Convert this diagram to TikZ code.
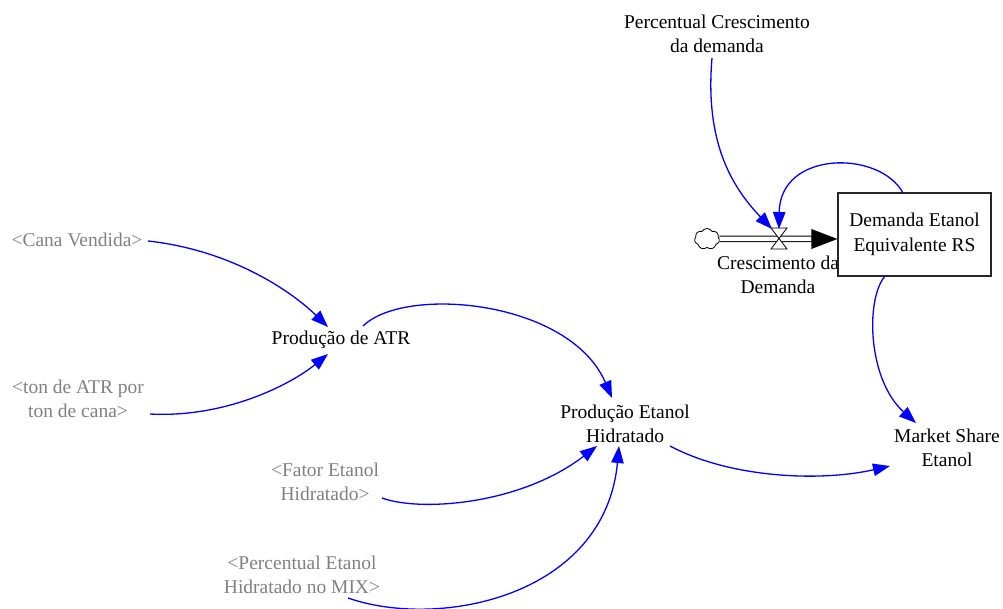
\documentclass[tikz,border=0pt]{standalone}
\usepackage{fontspec}
\setmainfont{Liberation Serif}
\usetikzlibrary{arrows.meta,calc,shapes.symbols}
\definecolor{linkblue}{RGB}{0,0,255}
\definecolor{shadowgray}{RGB}{128,128,128}
\tikzset{
  x=1pt, y=-1pt,
  var/.style={align=center, inner sep=0pt, font=\fontsize{19.5}{24.5}\selectfont},
  shadowvar/.style={var, text=shadowgray},
  stockbox/.style={draw=black!85, line width=1.2pt, fill=white, minimum width=153pt,
    minimum height=83pt, inner sep=0pt, align=center, font=\fontsize{19.5}{24.5}\selectfont},
  link/.style={draw=linkblue, line width=1.3pt, -{Triangle[length=17pt,width=12.5pt]}, fill=none},
  pipe/.style={draw=black, line width=1pt, double=white, double distance=4.5pt},
}
\begin{document}
\begin{tikzpicture}
\useasboundingbox (0,0) rectangle (1003,609);

% variables
\node[var] (pcd) at (717,34) {Percentual Crescimento\\da demanda};
\node[shadowvar] (cana) at (77,240) {<Cana Vendida>};
\node[var] (atr) at (341,340) {Produção de ATR};
\node[shadowvar] (ton) at (78,399) {<ton de ATR por\\ton de cana>};
\node[var] (pe) at (625,424) {Produção Etanol\\Hidratado};
\node[shadowvar] (fator) at (325,482) {<Fator Etanol\\Hidratado>};
\node[shadowvar] (mix) at (302,575) {<Percentual Etanol\\Hidratado no MIX>};
\node[var] (ms) at (947,448) {Market Share\\Etanol};
\node[var] (cres) at (778,275) {Crescimento da\\Demanda};

% stock, source cloud and flow pipe
\node[stockbox] (dem) at (914.5,234.5) {Demanda Etanol\\Equivalente RS};
\node[cloud, draw, cloud puffs=7, cloud puff arc=120, line width=0.8pt,
      minimum width=25pt, minimum height=21pt, inner sep=0pt] (src) at (707,239) {};
\coordinate (valve) at (779,239);
\coordinate (inlet) at ($(dem.west)+(0,4.5)$);
\draw[pipe] (src.east) -- ($(inlet)+(-26,0)$);
\fill[black] ($(inlet)+(-26,-10)$) -- (inlet) -- ($(inlet)+(-26,10)$) -- cycle;
\draw[fill=white, line width=0.8pt] ($(valve)+(-8,-11)$) -- ($(valve)+(8,-11)$)
  -- ($(valve)+(-8,10)$) -- ($(valve)+(8,10)$) -- cycle;

% causal links
\draw[link] ($(cana)+(71,1)$) .. controls +(82,9) and +(-38,-37) .. ($(atr)+(-13,-13)$);
\draw[link] ($(ton)+(72,15)$) .. controls +(75,4) and +(-38,31) .. ($(atr)+(-13,14)$);
\draw[link] ($(atr)+(22,-14)$) .. controls +(42,-41) and +(-42,-98) .. ($(pe)+(-13,-26)$);
\draw[link] ($(fator)+(57,16)$) .. controls +(38,14) and +(-77,59) .. ($(pe)+(-28,22)$);
\draw[link] ($(mix)+(46,23)$) .. controls +(92,32) and +(-14,150) .. ($(pe)+(-6,22)$);
\draw[link] ($(pe)+(45,22)$) .. controls +(60,32) and +(-70,16) .. ($(ms)+(-57,18)$);
\draw[link] ($(dem)+(-29.5,41.5)$) .. controls +(-20,24) and +(-48,-43) .. ($(ms)+(-31,-25)$);
\draw[link] ($(dem)+(-11.5,-41.5)$) .. controls +(-23,-43) and +(1,-79) .. ($(valve)+(0,-10)$);
\draw[link] ($(pcd)+(-5,24)$) .. controls +(-7,82) and +(-42,-44) .. ($(valve)+(-7,-10)$);
\end{tikzpicture}
\end{document}
